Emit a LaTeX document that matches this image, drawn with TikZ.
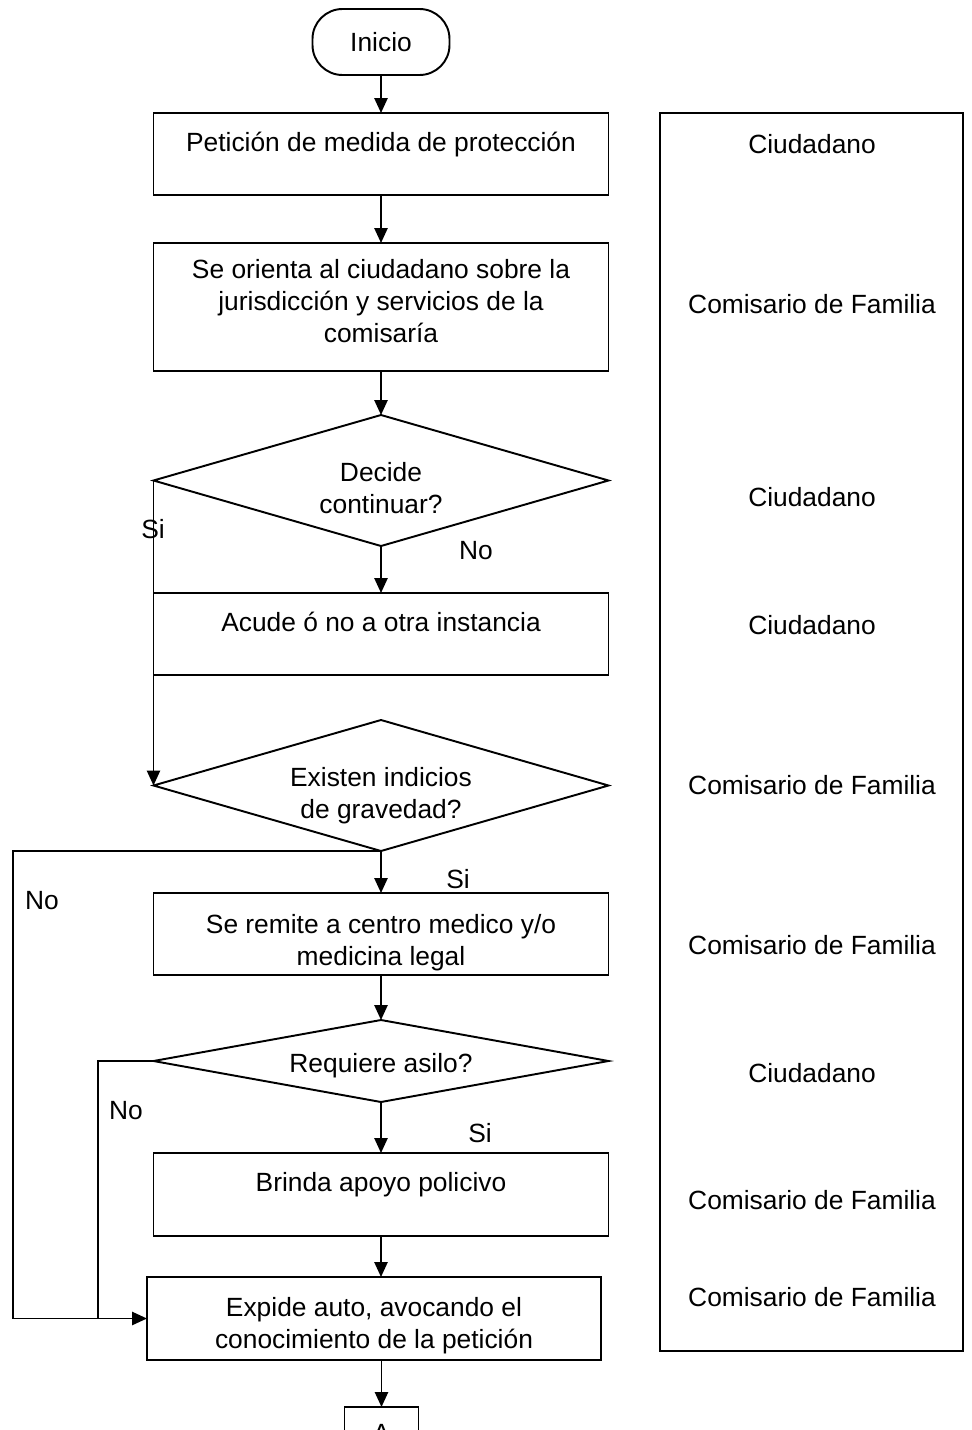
\documentclass[tikz,border=0pt]{standalone}
\usepackage{fontspec}
\setmainfont{Liberation Sans}
\usetikzlibrary{positioning, shapes.geometric, arrows.meta}

\begin{document}
\begin{tikzpicture}[node distance=0.9cm, >={Triangle[length=8.5pt, width=7.5pt]}, line width=1.1pt, outer sep=0pt]
        \tikzstyle{term} = [rectangle, draw=black, rounded corners=0.6cm, minimum width=2.74cm, minimum height=1.32cm, font=\fontsize{15}{18.2}\selectfont]
        \tikzstyle{box} = [rectangle, draw=black, inner sep=1pt, minimum width=9.1cm, minimum height=1.64cm, align=center, font=\fontsize{15}{18.2}\selectfont]
        \tikzstyle{decision} = [diamond, aspect=3.5, draw=black, minimum width=9.1cm, minimum height=2.62cm, inner sep=0pt, align=center, font=\fontsize{15}{18.2}\selectfont]
        \tikzstyle{role} = [font=\fontsize{15}{18.2}\selectfont]
        \tikzstyle{lbl} = [font=\fontsize{15}{18.2}\selectfont]

        \useasboundingbox (0,0) rectangle (19.42,-28.6);
        \clip (0,0) rectangle (19.42,-28.6);

        \node [term] (inicio) at (7.62,-0.84) {Inicio};
        \node [box, below=0.76cm of inicio] (peticion) {Petición de medida de protección\\[-4pt]\mbox{}};
        \node [box, minimum height=2.56cm, below=0.96cm of peticion] (orienta) {Se orienta al ciudadano sobre la\\ jurisdicción y servicios de la\\ comisaría\\[-11pt]\mbox{}};
        \node [decision, below=0.88cm of orienta] (decide) {\mbox{}\\[1pt]Decide\\ continuar?};
        \node [box, below=0.94cm of decide] (acude) {Acude ó no a otra instancia\\[-4pt]\mbox{}};
        \node [decision, below=0.9cm of acude] (indicios) {\mbox{}\\[4pt]Existen indicios\\ de gravedad?};
        \node [box, below=0.84cm of indicios] (remite) {\mbox{}\\[2pt]Se remite a centro medico y/o\\ medicina legal};
        \node [decision, aspect=6, minimum height=1.64cm, below=0.9cm of remite] (asilo) {\mbox{}\\[-2pt]Requiere asilo?};
        \node [box, minimum height=1.66cm, below=1.02cm of asilo] (apoyo) {Brinda apoyo policivo\\[-4pt]\mbox{}};
        \node [box, minimum width=9.08cm, minimum height=1.66cm, below=0.82cm of apoyo, xshift=-0.14cm] (expide) {\mbox{}\\[1pt]Expide auto, avocando el\\ conocimiento de la petición};
        \node [box, minimum width=1.48cm, minimum height=1.06cm, below=0.94cm of expide, xshift=0.15cm] (conA) {A};

        % responsables
        \node [draw=black, minimum width=6.06cm, minimum height=24.76cm] (roles) at (16.23,-14.64) {};
        \node [role] (r1) at (16.24,-2.88) {Ciudadano};
        \node [role] (r2) at (16.24,-6.08) {Comisario de Familia};
        \node [role] (r3) at (16.24,-9.94) {Ciudadano};
        \node [role] (r4) at (16.24,-12.5) {Ciudadano};
        \node [role] (r5) at (16.24,-15.7) {Comisario de Familia};
        \node [role] (r6) at (16.24,-18.9) {Comisario de Familia};
        \node [role] (r7) at (16.24,-21.46) {Ciudadano};
        \node [role] (r8) at (16.24,-24.0) {Comisario de Familia};
        \node [role] (r9) at (16.24,-25.94) {Comisario de Familia};

        \coordinate (lft) at (0.26,-17.02);
        \coordinate (mid) at (1.96,-21.18);

        \draw [->] (inicio) -- (peticion);
        \draw [->] (peticion) -- (orienta);
        \draw [->] (orienta) -- (decide);
        \draw [->] (decide) -- (acude);
        \draw [->] (decide.west) -- (indicios.west);
        \draw [->] (indicios) -- (remite);
        \draw [->] (remite) -- (asilo);
        \draw [->] (asilo) -- (apoyo);
        \draw [->] (apoyo.south) -- (apoyo.south |- expide.north);
        \draw [->] (expide.south -| conA) -- (conA);
        \draw [->] (indicios.south) -- (indicios.south -| lft) |- (expide.west);
        \draw (asilo.west) -| (mid |- expide.west);

        \node [lbl] (si1) at (3.06,-10.58) {Si};
        \node [lbl] (no1) at (9.52,-11.02) {No};
        \node [lbl] (si2) at (9.16,-17.58) {Si};
        \node [lbl] (no2) at (0.84,-18.02) {No};
        \node [lbl] (no3) at (2.52,-22.22) {No};
        \node [lbl] (si3) at (9.6,-22.66) {Si};

    \end{tikzpicture}
\end{document}
